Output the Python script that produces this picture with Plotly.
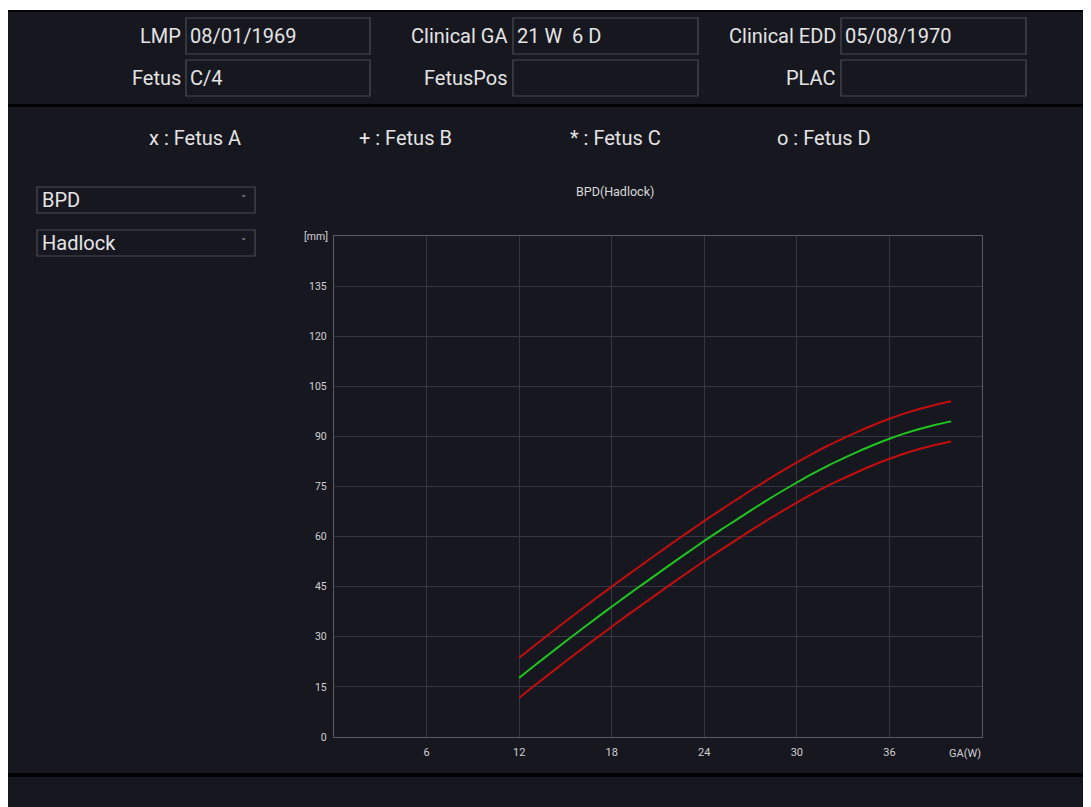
import plotly.graph_objects as go

# ---- data ----
ga_weeks = [12, 13, 14, 15, 16, 17, 18, 19, 20, 21, 22, 23, 24, 25, 26,
            27, 28, 29, 30, 31, 32, 33, 34, 35, 36, 37, 38, 39, 40]
bpd_mean = [17.7, 21.4, 25.0, 28.6, 32.1, 35.6, 39.0, 42.4, 45.7, 49.0, 52.3, 55.5,
            58.7, 61.8, 64.8, 67.8, 70.7, 73.5, 76.2, 78.8, 81.2, 83.4, 85.5, 87.5,
            89.3, 90.9, 92.3, 93.5, 94.5]
bpd_upper = [23.7, 27.4, 31.0, 34.6, 38.1, 41.6, 45.0, 48.4, 51.7, 55.0, 58.3, 61.5,
             64.7, 67.8, 70.8, 73.8, 76.7, 79.5, 82.2, 84.8, 87.2, 89.4, 91.5, 93.5,
             95.3, 96.9, 98.3, 99.5, 100.5]
bpd_lower = [11.7, 15.4, 19.0, 22.6, 26.1, 29.6, 33.0, 36.4, 39.7, 43.0, 46.3, 49.5,
             52.7, 55.8, 58.8, 61.8, 64.7, 67.5, 70.2, 72.8, 75.2, 77.4, 79.5, 81.5,
             83.3, 84.9, 86.3, 87.5, 88.5]
x_ticks = [6, 12, 18, 24, 30, 36]
y_ticks = [0, 15, 30, 45, 60, 75, 90, 105, 120, 135]

header_labels = [["LMP", "Clinical GA", "Clinical EDD"], ["Fetus", "FetusPos", "PLAC"]]
header_values = [["08/01/1969", "21 W  6 D", "05/08/1970"], ["C/4", "", ""]]
legend_items = ["x : Fetus A", "+ : Fetus B", "* : Fetus C", "o : Fetus D"]
dropdowns = ["BPD", "Hadlock"]

# ---- layout geometry (figure pixels) ----
FW, FH = 1083, 799
L, T = 326, 228
PW, PH = 648, 501
R, B = FW - L - PW, FH - T - PH
OFF = 8  # page body margin


def px(x):
    return (x - OFF - L) / PW


def py(y):
    return 1 - (y - OFF - T) / PH


BG = "#171720"
TXT = "#e4e4e4"
BOX = "#4b4b55"
FONT = "Roboto"
BIG = 20
TICK = "#d0d0d4"

fig = go.Figure()
fig.add_trace(go.Scatter(x=ga_weeks, y=bpd_upper, mode="lines", line_shape="spline",
                         line=dict(color="#c40d0d", width=2), showlegend=False))
fig.add_trace(go.Scatter(x=ga_weeks, y=bpd_lower, mode="lines", line_shape="spline",
                         line=dict(color="#c40d0d", width=2), showlegend=False))
fig.add_trace(go.Scatter(x=ga_weeks, y=bpd_mean, mode="lines", line_shape="spline",
                         line=dict(color="#1fc41f", width=2), showlegend=False))

shapes = []
annotations = []

# dark background
shapes.append(dict(type="rect", xref="paper", yref="paper", layer="below",
                   x0=px(8), x1=px(1100), y0=py(10), y1=py(820),
                   fillcolor=BG, line_width=0))
# top thin dark line
shapes.append(dict(type="rect", xref="paper", yref="paper", layer="below",
                   x0=px(8), x1=px(1100), y0=py(10), y1=py(12),
                   fillcolor="#050508", line_width=0))
# separators
shapes.append(dict(type="rect", xref="paper", yref="paper", layer="below",
                   x0=px(8), x1=px(1100), y0=py(104), y1=py(107),
                   fillcolor="#030305", line_width=0))
shapes.append(dict(type="rect", xref="paper", yref="paper", layer="below",
                   x0=px(8), x1=px(1100), y0=py(773), y1=py(777),
                   fillcolor="#030305", line_width=0))

# header boxes
label_right = [183, 510, 838]
box_x = [(186, 370), (513, 698), (841, 1026)]
row_y = [(18, 54), (60, 96)]
for r in range(2):
    for c in range(3):
        y0, y1 = row_y[r]
        x0, x1 = box_x[c]
        shapes.append(dict(type="rect", xref="paper", yref="paper", layer="below",
                           x0=px(x0), x1=px(x1), y0=py(y0), y1=py(y1),
                           fillcolor=BG, line=dict(color=BOX, width=1.2)))
        yc = (y0 + y1) / 2
        annotations.append(dict(xref="paper", yref="paper", x=px(label_right[c]), y=py(yc),
                                text=header_labels[r][c], showarrow=False,
                                xanchor="right", yanchor="middle",
                                font=dict(family=FONT, size=BIG, color=TXT)))
        if header_values[r][c]:
            annotations.append(dict(xref="paper", yref="paper", x=px(x0 + 2), y=py(yc),
                                    text=header_values[r][c].replace("  ", "&nbsp;&nbsp;"),
                                    showarrow=False, xanchor="left", yanchor="middle",
                                    font=dict(family=FONT, size=BIG, color=TXT)))

# legend row
legend_cx = [195, 405, 615, 824]
for t, cx in zip(legend_items, legend_cx):
    annotations.append(dict(xref="paper", yref="paper", x=px(cx), y=py(138),
                            text=t, showarrow=False, xanchor="center", yanchor="middle",
                            font=dict(family=FONT, size=BIG, color=TXT)))

# dropdowns
dd_y = [(187, 213), (230, 256)]
for t, (y0, y1) in zip(dropdowns, dd_y):
    shapes.append(dict(type="rect", xref="paper", yref="paper", layer="below",
                       x0=px(37), x1=px(255), y0=py(y0), y1=py(y1),
                       fillcolor=BG, line=dict(color=BOX, width=1.2)))
    yc = (y0 + y1) / 2
    annotations.append(dict(xref="paper", yref="paper", x=px(40), y=py(yc),
                            text=t, showarrow=False, xanchor="left", yanchor="middle",
                            font=dict(family=FONT, size=BIG, color=TXT)))
    annotations.append(dict(xref="paper", yref="paper", x=px(243), y=py(yc + 1),
                            text="ˇ", showarrow=False, xanchor="center", yanchor="middle",
                            font=dict(family=FONT, size=12, color="#9a9aa2")))

# chart title & axis labels
annotations.append(dict(xref="paper", yref="paper", x=px(615), y=py(191),
                        text="BPD(Hadlock)", showarrow=False, xanchor="center",
                        yanchor="middle", font=dict(family=FONT, size=12.5, color="#d8d8d8")))
annotations.append(dict(xref="paper", yref="paper", x=px(330), y=1,
                        text="[mm]", showarrow=False, xanchor="right",
                        yanchor="middle", font=dict(family=FONT, size=10.5, color=TICK)))
annotations.append(dict(xref="paper", yref="paper", x=px(983), y=py(753),
                        text="GA(W)", showarrow=False, xanchor="right",
                        yanchor="middle", font=dict(family=FONT, size=11, color=TICK)))

axis_common = dict(showgrid=True, gridcolor="#363642", gridwidth=1,
                   showline=True, linecolor="#5a5a64", linewidth=1.3, mirror=True,
                   zeroline=False, ticks="")

fig.update_layout(
    width=FW, height=FH,
    margin=dict(l=L, r=R, t=T, b=B, pad=0),
    paper_bgcolor="white", plot_bgcolor=BG,
    shapes=shapes, annotations=annotations,
    xaxis=dict(range=[0, 42], tickvals=x_ticks, ticktext=[str(v) for v in x_ticks],
               ticklabelstandoff=5,
               tickfont=dict(family=FONT, size=11, color=TICK), **axis_common),
    yaxis=dict(range=[0, 150], tickvals=y_ticks, ticktext=[str(v) for v in y_ticks],
               ticklabelstandoff=4,
               tickfont=dict(family=FONT, size=10.5, color=TICK), **axis_common),
    showlegend=False,
)

fig.write_html("out.html")
